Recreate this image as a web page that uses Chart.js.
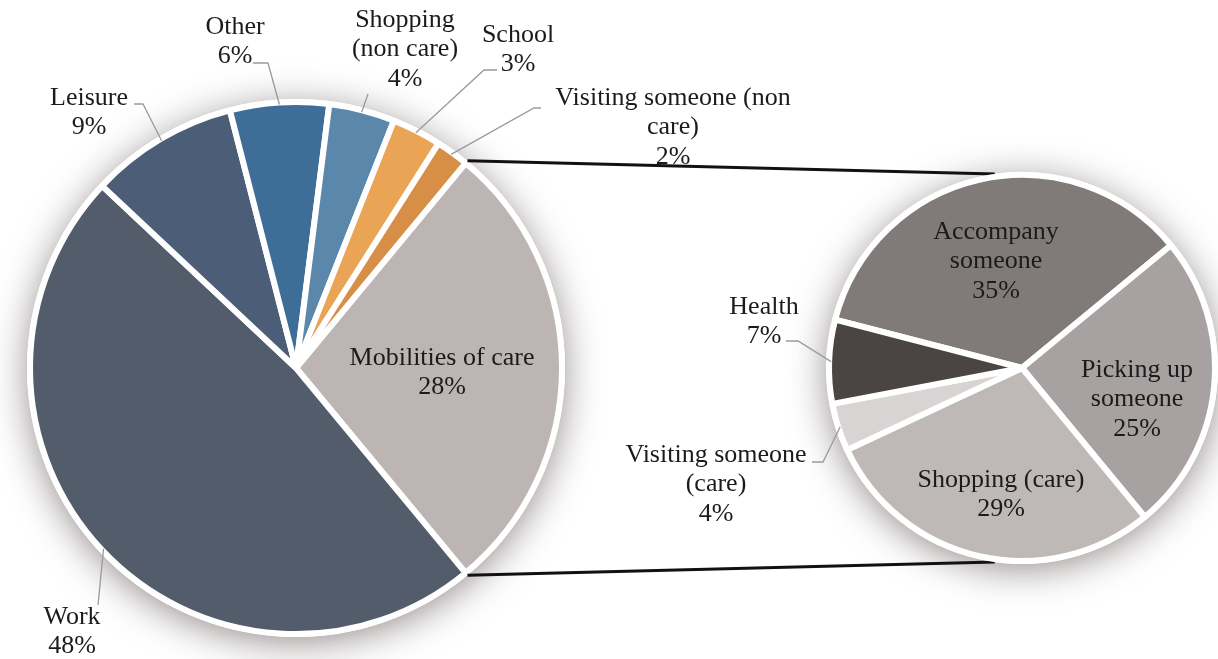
<!DOCTYPE html>
<html>
<head>
<meta charset="utf-8">
<title>Trip purposes - pie of pie</title>
<script src="https://cdn.jsdelivr.net/npm/chart.js@4.4.1/dist/chart.umd.min.js"></script>
<style>
  html, body { margin: 0; padding: 0; background: #fff; overflow: hidden; }
  #wrap { position: relative; width: 1218px; height: 659px; }
  #wrap canvas { position: absolute; left: 0; top: 0; }
</style>
</head>
<body>
<div id="wrap">
  <canvas id="mainPie" width="1218" height="659"></canvas>
  <canvas id="carePie" width="1218" height="659"></canvas>
</div>
<script>
/* ---------- data ---------- */
const mainCategories = [
  ["Mobilities of care"],
  ["Work"],
  ["Leisure"],
  ["Other"],
  ["Shopping", "(non care)"],
  ["School"],
  ["Visiting someone (non", "care)"]
];
const mainValues = [28, 48, 9, 6, 4, 3, 2];
const mainColors = ["#bcb5b4", "#525c6b", "#4b5d77", "#3e6e98", "#5b87ab", "#e9a456", "#d78e47"];

const careCategories = [
  ["Accompany", "someone"],
  ["Picking up", "someone"],
  ["Shopping (care)"],
  ["Visiting someone", "(care)"],
  ["Health"]
];
const careValues = [35, 25, 29, 4, 7];
const careColors = ["#807b79", "#a7a2a1", "#beb8b7", "#d8d4d3", "#4a4442"];

/* ---------- label layout (text centre of first line, optional leader elbow) ---------- */
const mainLabelLayout = [
  { x: 442, y: 358 },
  { x: 72,  y: 617, leader: [[98, 605]] },
  { x: 89,  y: 98,  leader: [[143, 104], [134, 104]] },
  { x: 235, y: 27,  leader: [[268, 63], [253, 63]] },
  { x: 405, y: 20,  leader: [[368, 94]] },
  { x: 518, y: 35,  leader: [[484, 70], [497, 70]] },
  { x: 673, y: 98,  leader: [[534, 108], [541, 108]] }
];
const careLabelLayout = [
  { x: 996,  y: 232 },
  { x: 1137, y: 370 },
  { x: 1001, y: 480 },
  { x: 716,  y: 455, leader: [[823, 462], [812, 462]] },
  { x: 764,  y: 307, leader: [[798, 341], [786, 341]] }
];

const FONT = '26px "Liberation Serif", "Times New Roman", serif';
const LINE_H = 29.5;

/* ---------- plugins ---------- */
const pieShadow = {
  id: "pieShadow",
  beforeDatasetsDraw(chart) {
    const arc = chart.getDatasetMeta(0).data[0];
    if (!arc) return;
    const ctx = chart.ctx;
    ctx.save();
    ctx.shadowColor = "rgba(70,55,55,0.55)";
    ctx.shadowBlur = 36;
    ctx.shadowOffsetY = 6;
    ctx.fillStyle = "#fff";
    ctx.beginPath();
    ctx.arc(arc.x, arc.y, arc.outerRadius + 3, 0, Math.PI * 2);
    ctx.fill();
    ctx.restore();
  }
};

const pieLabels = {
  id: "pieLabels",
  afterDatasetsDraw(chart, args, opts) {
    const arcs = chart.getDatasetMeta(0).data;
    const values = chart.data.datasets[0].data;
    const ctx = chart.ctx;
    ctx.save();
    ctx.font = FONT;
    ctx.textAlign = "center";
    ctx.textBaseline = "middle";
    ctx.fillStyle = "#1b1b1b";
    ctx.strokeStyle = "#9a9a9a";
    ctx.lineWidth = 1.3;
    opts.layout.forEach((it, i) => {
      const arc = arcs[i];
      if (it.leader) {
        const mid = (arc.startAngle + arc.endAngle) / 2;
        const r = arc.outerRadius - 2;
        ctx.beginPath();
        ctx.moveTo(arc.x + Math.cos(mid) * r, arc.y + Math.sin(mid) * r);
        it.leader.forEach(p => ctx.lineTo(p[0], p[1]));
        ctx.stroke();
      }
      const lines = opts.names[i].concat([values[i] + "%"]);
      lines.forEach((t, k) => ctx.fillText(t, it.x, it.y + k * LINE_H));
    });
    ctx.restore();
  }
};

// lines joining the "Mobilities of care" slice to the second pie
const connectors = {
  id: "connectors",
  beforeDatasetsDraw(chart, args, opts) {
    const src = opts.source.getDatasetMeta(0).data[0];
    const dst = chart.getDatasetMeta(0).data[0];
    if (!src || !dst) return;
    const rs = src.outerRadius + 3;
    const rd = dst.outerRadius + 3;
    const tilt = 8 * Math.PI / 180;
    const ctx = chart.ctx;
    ctx.save();
    ctx.strokeStyle = "#111";
    ctx.lineWidth = 3;
    ctx.beginPath();
    ctx.moveTo(src.x + Math.cos(src.startAngle) * rs, src.y + Math.sin(src.startAngle) * rs);
    ctx.lineTo(dst.x + Math.cos(-Math.PI / 2 - tilt) * rd, dst.y + Math.sin(-Math.PI / 2 - tilt) * rd);
    ctx.moveTo(src.x + Math.cos(src.endAngle) * rs, src.y + Math.sin(src.endAngle) * rs);
    ctx.lineTo(dst.x + Math.cos(Math.PI / 2 + tilt) * rd, dst.y + Math.sin(Math.PI / 2 + tilt) * rd);
    ctx.stroke();
    ctx.restore();
  }
};

/* ---------- charts ---------- */
const totalMain = mainValues.reduce((a, b) => a + b, 0);
// centre the broken-out slice on the right-hand side
const mainRotation = 90 - (mainValues[0] / totalMain) * 180;

const mainChart = new Chart(document.getElementById("mainPie"), {
  type: "pie",
  data: {
    labels: mainCategories.map(c => c.join(" ")),
    datasets: [{
      data: mainValues,
      backgroundColor: mainColors,
      borderColor: "#fff",
      borderWidth: 6
    }]
  },
  options: {
    responsive: false,
    animation: false,
    rotation: mainRotation,
    layout: { padding: { left: 27, top: 99, right: 653, bottom: 22 } },
    plugins: {
      legend: { display: false },
      tooltip: { enabled: false },
      pieLabels: { names: mainCategories, layout: mainLabelLayout }
    },
    events: []
  },
  plugins: [pieShadow, pieLabels]
});

const careChart = new Chart(document.getElementById("carePie"), {
  type: "pie",
  data: {
    labels: careCategories.map(c => c.join(" ")),
    datasets: [{
      data: careValues,
      backgroundColor: careColors,
      borderColor: "#fff",
      borderWidth: 6
    }]
  },
  options: {
    responsive: false,
    animation: false,
    rotation: 284.5,
    layout: { padding: { left: 826, top: 172, right: 0, bottom: 95 } },
    plugins: {
      legend: { display: false },
      tooltip: { enabled: false },
      pieLabels: { names: careCategories, layout: careLabelLayout },
      connectors: { source: mainChart }
    },
    events: []
  },
  plugins: [pieShadow, connectors, pieLabels]
});
</script>
</body>
</html>
